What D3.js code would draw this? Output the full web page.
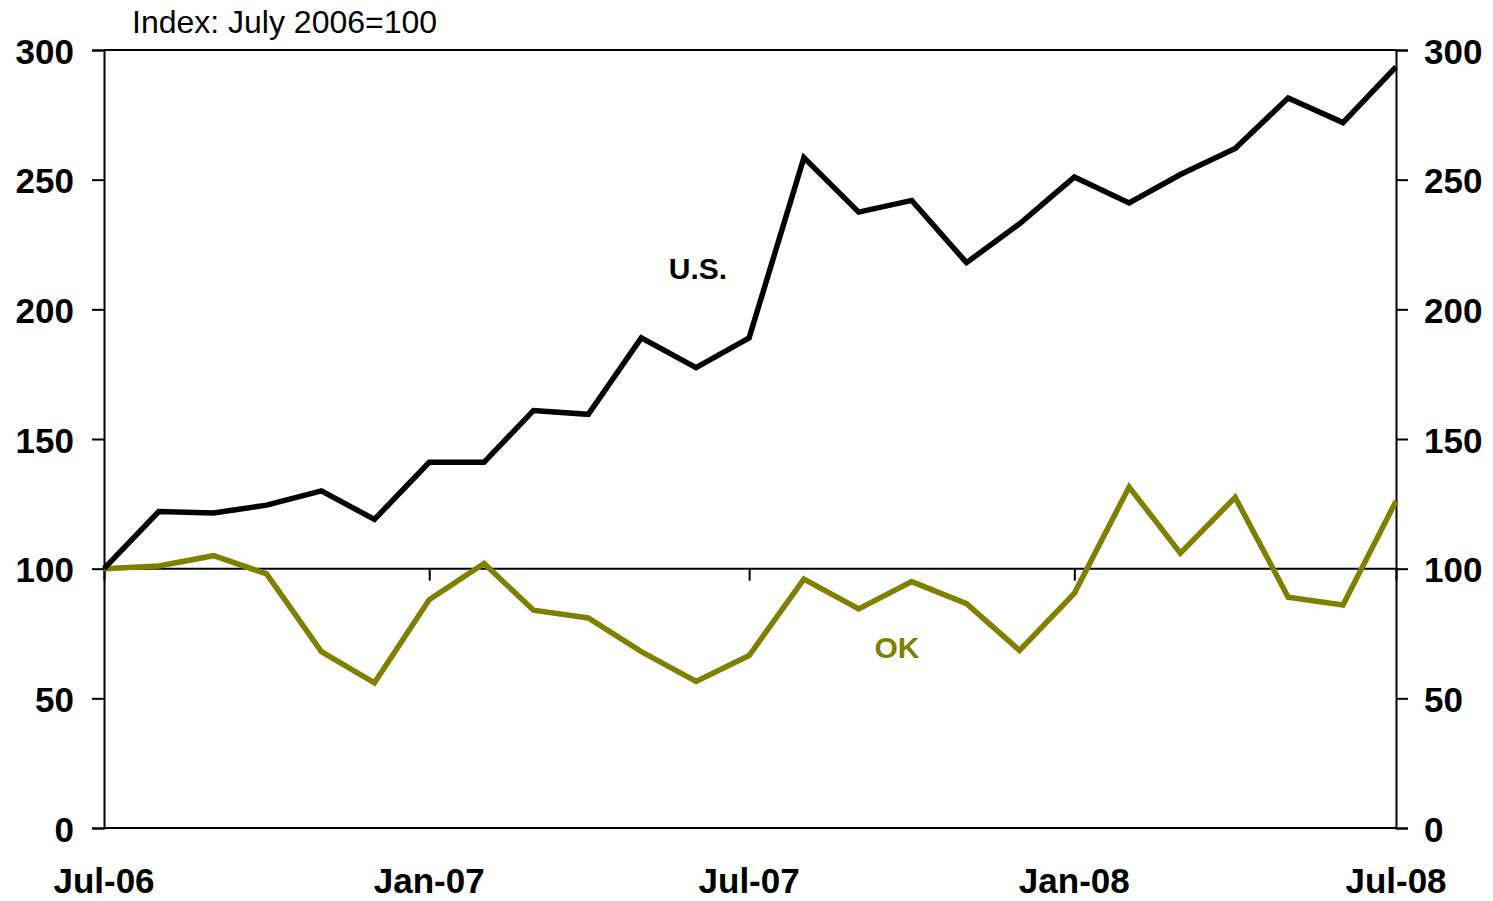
<!DOCTYPE html>
<html>
<head>
<meta charset="utf-8">
<script src="https://cdn.jsdelivr.net/npm/d3@7"></script>
<style>
  html, body { margin: 0; padding: 0; background: #fff; }
  svg { display: block; font-family: "Liberation Sans", Arial, sans-serif; }
</style>
</head>
<body>
<svg id="chart" width="1493" height="901"></svg>
<script>
// Monthly index values, July 2006 = 100
const months = [
  "2006-07","2006-08","2006-09","2006-10","2006-11","2006-12",
  "2007-01","2007-02","2007-03","2007-04","2007-05","2007-06",
  "2007-07","2007-08","2007-09","2007-10","2007-11","2007-12",
  "2008-01","2008-02","2008-03","2008-04","2008-05","2008-06","2008-07"
];
const usValues = [
  100, 122, 121.5, 124.5, 130, 119,
  141, 141, 161, 159.5, 189, 177.5,
  189, 258.5, 237.5, 242, 218, 233,
  251, 241, 252, 262, 281.5, 272, 293.5
];
const okValues = [
  100, 101, 105, 98, 68, 56,
  88, 102, 84, 81, 68, 56.5,
  66.5, 96, 84.5, 95, 86.5, 68.5,
  90.5, 131.5, 106, 127.5, 89, 86, 126
];
const yTicks = [0, 50, 100, 150, 200, 250, 300];
const xTickDates = ["2006-07","2007-01","2007-07","2008-01","2008-07"];
const xTickLabels = ["Jul-06","Jan-07","Jul-07","Jan-08","Jul-08"];

const parse = d3.timeParse("%Y-%m");
const dates = months.map(parse);

const svg = d3.select("#chart");
const plotLeft = 104, plotRight = 1396, plotTop = 50, plotBottom = 828;

const x = d3.scaleTime()
  .domain([parse("2006-07"), parse("2008-07")])
  .range([plotLeft, plotRight]);
const y = d3.scaleLinear().domain([0, 300]).range([plotBottom, plotTop]);

const styleAxis = g => {
  g.selectAll("text")
    .attr("font-size", 35).attr("font-weight", "bold").attr("fill", "#000")
    .attr("dy", "0.38em")
    .attr("font-family", "Liberation Sans, Arial, sans-serif");
  g.selectAll("line,path").attr("stroke", "#000").attr("stroke-width", 2);
};

// Left axis
svg.append("g")
  .attr("transform", `translate(${plotLeft},0)`)
  .call(d3.axisLeft(y).tickValues(yTicks).tickSize(12).tickPadding(18))
  .call(styleAxis);

// Right axis
svg.append("g")
  .attr("transform", `translate(${plotRight},0)`)
  .call(d3.axisRight(y).tickValues(yTicks).tickSize(12).tickPadding(16))
  .call(styleAxis);

// Top and bottom borders
[300, 0].forEach(v => {
  svg.append("line")
    .attr("x1", plotLeft).attr("x2", plotRight)
    .attr("y1", y(v)).attr("y2", y(v))
    .attr("stroke", "#000").attr("stroke-width", 2);
});

// Baseline at 100 with date ticks hanging below it
const baseAxis = svg.append("g")
  .attr("transform", `translate(0,${y(100)})`)
  .call(d3.axisBottom(x).tickValues(xTickDates.map(parse)).tickSize(12).tickFormat(""))
  .call(g => g.selectAll("line,path").attr("stroke", "#000").attr("stroke-width", 2));
baseAxis.select(".domain").attr("d", `M${plotLeft},0H${plotRight}`);

// Date labels below the plot
svg.append("g")
  .selectAll("text")
  .data(xTickDates)
  .join("text")
  .attr("x", d => x(parse(d)))
  .attr("y", 893)
  .attr("text-anchor", "middle")
  .attr("font-size", 35)
  .attr("font-weight", "bold")
  .attr("fill", "#000")
  .text((d, i) => xTickLabels[i]);

// Series lines
const line = d3.line()
  .x((d, i) => x(dates[i]))
  .y(d => y(d));

svg.append("path")
  .datum(okValues)
  .attr("d", line)
  .attr("fill", "none")
  .attr("stroke", "#808000")
  .attr("stroke-width", 5.5)
  .attr("stroke-linejoin", "miter");

svg.append("path")
  .datum(usValues)
  .attr("d", line)
  .attr("fill", "none")
  .attr("stroke", "#000")
  .attr("stroke-width", 5.5)
  .attr("stroke-linejoin", "miter");

// Series labels
svg.append("text")
  .attr("x", 698).attr("y", 279)
  .attr("text-anchor", "middle")
  .attr("font-size", 30).attr("font-weight", "bold").attr("fill", "#000")
  .text("U.S.");

svg.append("text")
  .attr("x", 897).attr("y", 658)
  .attr("text-anchor", "middle")
  .attr("font-size", 30).attr("font-weight", "bold").attr("fill", "#808000")
  .text("OK");

// Units note
svg.append("text")
  .attr("x", 132).attr("y", 33)
  .attr("font-size", 32).attr("fill", "#000")
  .text("Index: July 2006=100");
</script>
</body>
</html>
